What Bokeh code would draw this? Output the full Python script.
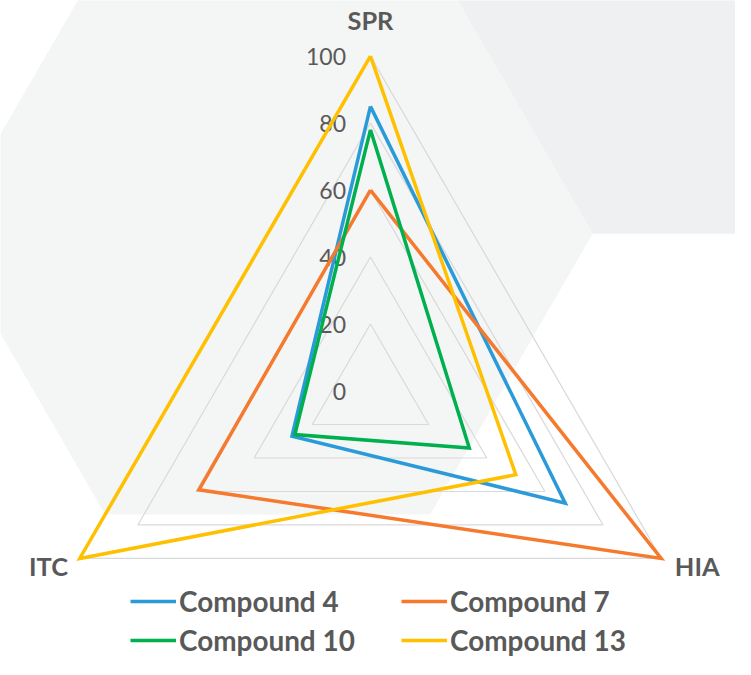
import numpy as np
from bokeh.plotting import figure
from bokeh.models import Legend, LegendItem, Range1d
from bokeh.core.properties import value
from bokeh.embed import file_html
from bokeh.resources import INLINE

# ---- data ----
axis_names = ["SPR", "HIA", "ITC"]
axis_angles_deg = [90, -30, 210]
grid_levels = [20, 40, 60, 80, 100]
tick_values = [0, 20, 40, 60, 80, 100]
series_names = ["Compound 4", "Compound 7", "Compound 10", "Compound 13"]
compound4 = [85, 67, 27]
compound7 = [60, 100, 59]
compound10 = [78, 34, 26]
compound13 = [100, 50, 100]
series_values = [compound4, compound7, compound10, compound13]
series_colors = ["#2b9ad8", "#f57a2e", "#00b04f", "#ffc000"]

# ---- layout: the 751x675 design is scaled into a 735x659 figure ----
W, H = 735, 659
REF_W, REF_H = 751, 675
k = W / REF_W
S = 3.43            # design pixels per unit of value
CX, CY = 378, 400   # design position of the centre
def dx(px): return (px - CX) / S
def dy(py): return (CY - py) / S
def fs(px): return f"{px * k:.1f}px"

p = figure(width=W, height=H, output_backend="svg", toolbar_location=None,
           x_range=Range1d(dx(0), dx(REF_W)), y_range=Range1d(dy(REF_H), dy(0)),
           x_axis_location=None, y_axis_location=None, min_border=0,
           outline_line_color=None, background_fill_color="white",
           border_fill_color="white")
p.grid.visible = False

# decorative background hexagons
hcx, hcy, hr = 273, 239, 332
hex_ang = np.deg2rad(np.arange(0, 360, 60))
hx = [dx(hcx + hr * np.cos(a)) for a in hex_ang]
hy = [dy(hcy - hr * np.sin(a)) for a in hex_ang]
rx0, ry0 = hcx + hr, hcy
tx, ty = hcx + hr * np.cos(np.pi / 3), hcy - hr * np.sin(np.pi / 3)
p.patch([dx(rx0), dx(900), dx(900), dx(tx)], [dy(ry0), dy(ry0), dy(ty), dy(ty)],
        fill_color="#eff0f2", line_color=None)
p.patch(hx, hy, fill_color="#f4f5f5", line_color=None)

ang = np.deg2rad(axis_angles_deg)
cosA, sinA = np.cos(ang), np.sin(ang)

# grid triangles
for lv in grid_levels:
    xs = list(lv * cosA) + [lv * cosA[0]]
    ys = list(lv * sinA) + [lv * sinA[0]]
    p.line(xs, ys, line_color="#d9d9d9", line_width=1.2)

# tick labels along SPR axis
p.text(x=[dx(353)] * len(tick_values), y=tick_values, text=[str(t) for t in tick_values],
       text_align="right", text_baseline="middle", text_font=value("Lato"),
       text_font_size=fs(23.5), text_color="#595959")

# axis category labels
lab_x = [dx(378), dx(689), dx(69)]
lab_y = [dy(20), dy(579), dy(579)]
lab_align = ["center", "left", "right"]
p.text(x=lab_x, y=lab_y, text=axis_names, text_align=lab_align, text_baseline="middle",
       text_font=value("Lato"), text_font_style="bold", text_font_size=fs(26),
       text_color="#595959")

# series
items = []
for name, vals, col in zip(series_names, series_values, series_colors):
    v = np.array(vals, dtype=float)
    xs = list(v * cosA) + [v[0] * cosA[0]]
    ys = list(v * sinA) + [v[0] * sinA[0]]
    r = p.line(xs, ys, line_color=col, line_width=3.5, line_join="miter")
    items.append(LegendItem(label=name, renderers=[r]))

legend = Legend(items=items, orientation="horizontal", ncols=2,
                location=(130, 0),
                glyph_width=46, glyph_height=30, label_height=39, label_width=222,
                label_standoff=3, spacing=0, padding=0, margin=0,
                label_text_font="Lato", label_text_font_style="bold",
                label_text_font_size=fs(28.5), label_text_color="#595959",
                background_fill_alpha=0, border_line_color=None)
p.add_layout(legend)

open("out.html", "w").write(file_html(p, INLINE))
